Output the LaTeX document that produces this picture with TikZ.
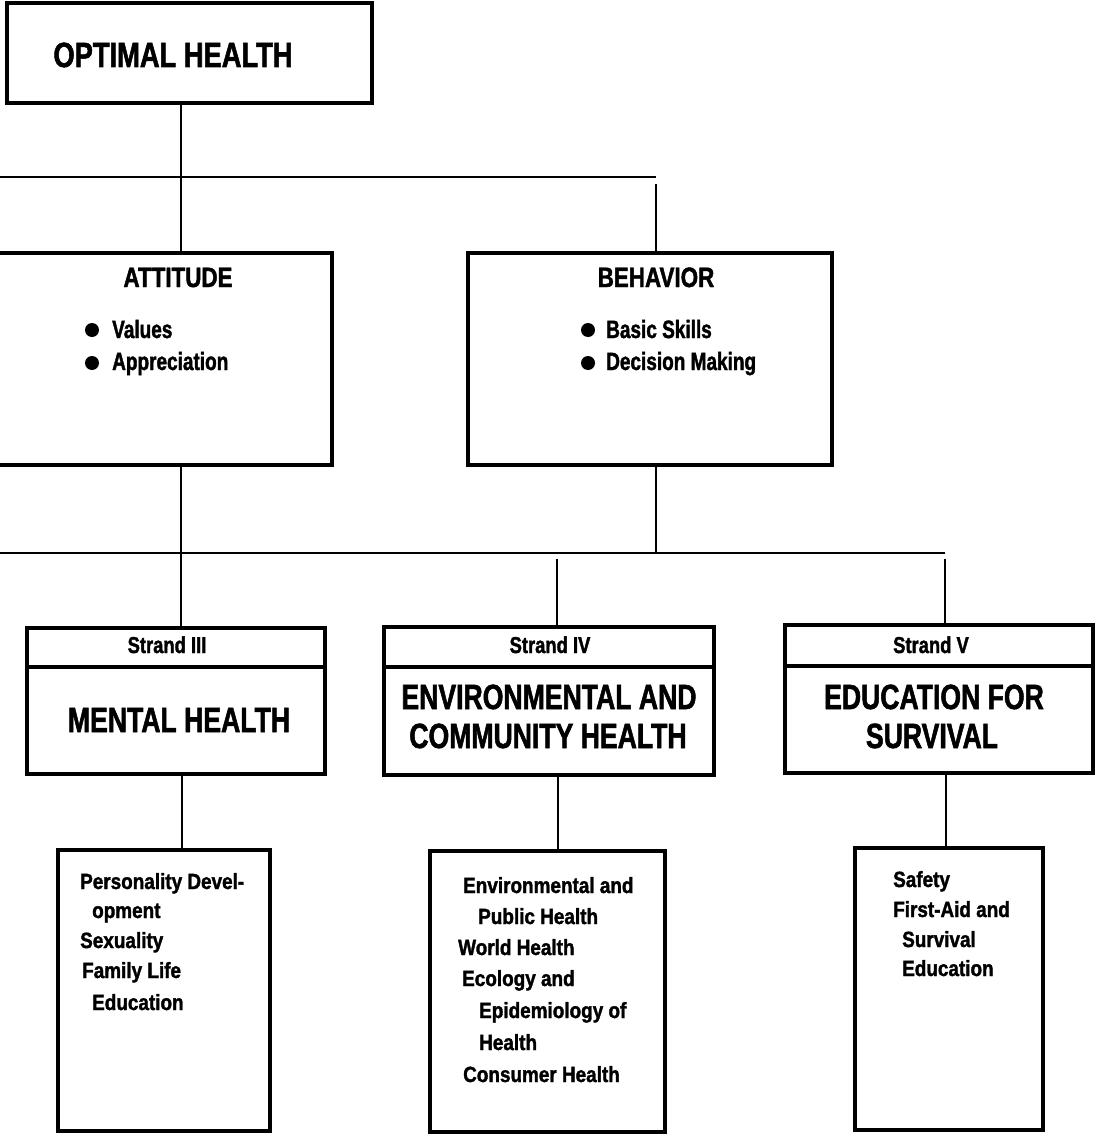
\documentclass[tikz,border=0pt]{standalone}
\usepackage{fontspec}
\newfontfamily\fTitle{Liberation Sans}[FakeStretch=0.78,FakeBold=1.5]
\newfontfamily\fHead{Liberation Sans}[FakeStretch=0.76,FakeBold=1.5]
\newfontfamily\fSub{Liberation Sans}[FakeStretch=0.80,FakeBold=1.5]
\newfontfamily\fBul{Liberation Sans}[FakeStretch=0.76,FakeBold=1.5]
\newfontfamily\fItem{Liberation Sans}[FakeStretch=0.86,FakeBold=1.5]
\newfontfamily\fStr{Liberation Sans}[FakeStretch=0.80,FakeBold=1.5]
\begin{document}
\begin{tikzpicture}[x=1pt,y=-1pt,
  box/.style={draw,line width=3.3pt,inner sep=0pt},
  boxline/.style={line width=3.3pt},
  conn/.style={line width=2.8pt},
  ttl/.style={font=\fTitle\bfseries\fontsize{35}{35}\selectfont,inner sep=0pt,anchor=base},
  head/.style={font=\fHead\bfseries\fontsize{35}{35}\selectfont,inner sep=0pt,anchor=base},
  subttl/.style={font=\fSub\bfseries\fontsize{28}{28}\selectfont,inner sep=0pt,anchor=base},
  bul/.style={font=\fBul\bfseries\fontsize{25}{25}\selectfont,inner sep=0pt,anchor=base west},
  strand/.style={font=\fStr\bfseries\fontsize{23}{23}\selectfont,inner sep=0pt,anchor=base},
  item/.style={font=\fItem\bfseries\fontsize{22}{22}\selectfont,inner sep=0pt,anchor=base west},
  dot/.style={fill=black}]
\useasboundingbox (0,0) rectangle (1101,1137);
\fill[white] (0,0) rectangle (1101,1137);
\clip (0,0) rectangle (1101,1137);

% boxes
\node[box,minimum width=365,minimum height=100] (opt) at (189.5,53) {};
\node[box,minimum width=352,minimum height=212] (att) at (156,359) {};
\node[box,minimum width=364,minimum height=212] (beh) at (650,359) {};
\node[box,minimum width=298,minimum height=146] (s3) at (176,701) {};
\node[box,minimum width=330,minimum height=148] (s4) at (549,701) {};
\node[box,minimum width=308,minimum height=148] (s5) at (939,699) {};
\node[box,minimum width=212,minimum height=281] (l1) at (164,990.5) {};
\node[box,minimum width=235,minimum height=281] (l2) at (547.5,991.5) {};
\node[box,minimum width=188,minimum height=282] (l3) at (949,989) {};

% strand dividers
\coordinate (d3) at (0,667);
\coordinate (d4) at (0,667);
\coordinate (d5) at (0,666);
\draw[boxline] (s3.west |- d3) -- (s3.east |- d3);
\draw[boxline] (s4.west |- d4) -- (s4.east |- d4);
\draw[boxline] (s5.west |- d5) -- (s5.east |- d5);

% connector x positions
\coordinate (xa) at (181,0);
\coordinate (xb) at (656,0);
\coordinate (xc) at (557,0);
\coordinate (xd) at (945,0);
\coordinate (xe) at (182,0);
\coordinate (xf) at (558,0);
\coordinate (xg) at (946,0);

% buses
\coordinate (b1l) at (0,177);
\coordinate (b1r) at (656,177);
\coordinate (b1d) at (656,184);
\coordinate (b2l) at (0,553);
\coordinate (b2m) at (656,553);
\coordinate (b2r) at (945,553);
\coordinate (b2c) at (557,559);
\coordinate (b2d) at (945,559);

\draw[conn] (opt.south -| xa) -- (att.north -| xa);
\draw[conn] (b1l) -- (b1r);
\draw[conn] (b1d) -- (beh.north -| xb);
\draw[conn] (att.south -| xa) -- (s3.north -| xa);
\draw[conn] (beh.south -| xb) -- (b2m);
\draw[conn] (b2l) -- (b2r);
\draw[conn] (b2c) -- (s4.north -| xc);
\draw[conn] (b2d) -- (s5.north -| xd);
\draw[conn] (s3.south -| xe) -- (l1.north -| xe);
\draw[conn] (s4.south -| xf) -- (l2.north -| xf);
\draw[conn] (s5.south -| xg) -- (l3.north -| xg);

% texts
\node[ttl] (tOpt) at (173,67) {OPTIMAL HEALTH};
\node[subttl] (tAtt) at (178,287) {ATTITUDE};
\node[subttl] (tBeh) at (656,287) {BEHAVIOR};

\fill[dot] (92,330) circle (7pt);
\fill[dot] (92,363) circle (7pt);
\fill[dot] (588,330) circle (7pt);
\fill[dot] (588,363) circle (7pt);
\node[bul] (v1) at (112,338) {Values};
\node[bul] (v2) at (112,370) {Appreciation};
\node[bul] (v3) at (606,338) {Basic Skills};
\node[bul] (v4) at (606,370) {Decision Making};

\node[strand] (h3) at (167,653) {Strand III};
\node[strand] (h4) at (550,653) {Strand IV};
\node[strand] (h5) at (931,653) {Strand V};

\node[head] (m3) at (179,732) {MENTAL HEALTH};
\node[head] (m4a) at (549,709) {ENVIRONMENTAL AND};
\node[head] (m4b) at (548,748) {COMMUNITY HEALTH};
\node[head] (m5a) at (934,709) {EDUCATION FOR};
\node[head] (m5b) at (932,748) {SURVIVAL};

% lists
\node[item] (p1) at (80,889) {Personality Devel-};
\node[item] (p2) at (92,918) {opment};
\node[item] (p3) at (80,948) {Sexuality};
\node[item] (p4) at (82,978) {Family Life};
\node[item] (p5) at (92,1010) {Education};

\node[item] (q1) at (463,893) {Environmental and};
\node[item] (q2) at (478,924) {Public Health};
\node[item] (q3) at (458,955) {World Health};
\node[item] (q4) at (462,986) {Ecology and};
\node[item] (q5) at (479,1018) {Epidemiology of};
\node[item] (q6) at (479,1050) {Health};
\node[item] (q7) at (463,1082) {Consumer Health};

\node[item] (r1) at (893,887) {Safety};
\node[item] (r2) at (893,917) {First-Aid and};
\node[item] (r3) at (902,947) {Survival};
\node[item] (r4) at (902,976) {Education};
\end{tikzpicture}
\end{document}
